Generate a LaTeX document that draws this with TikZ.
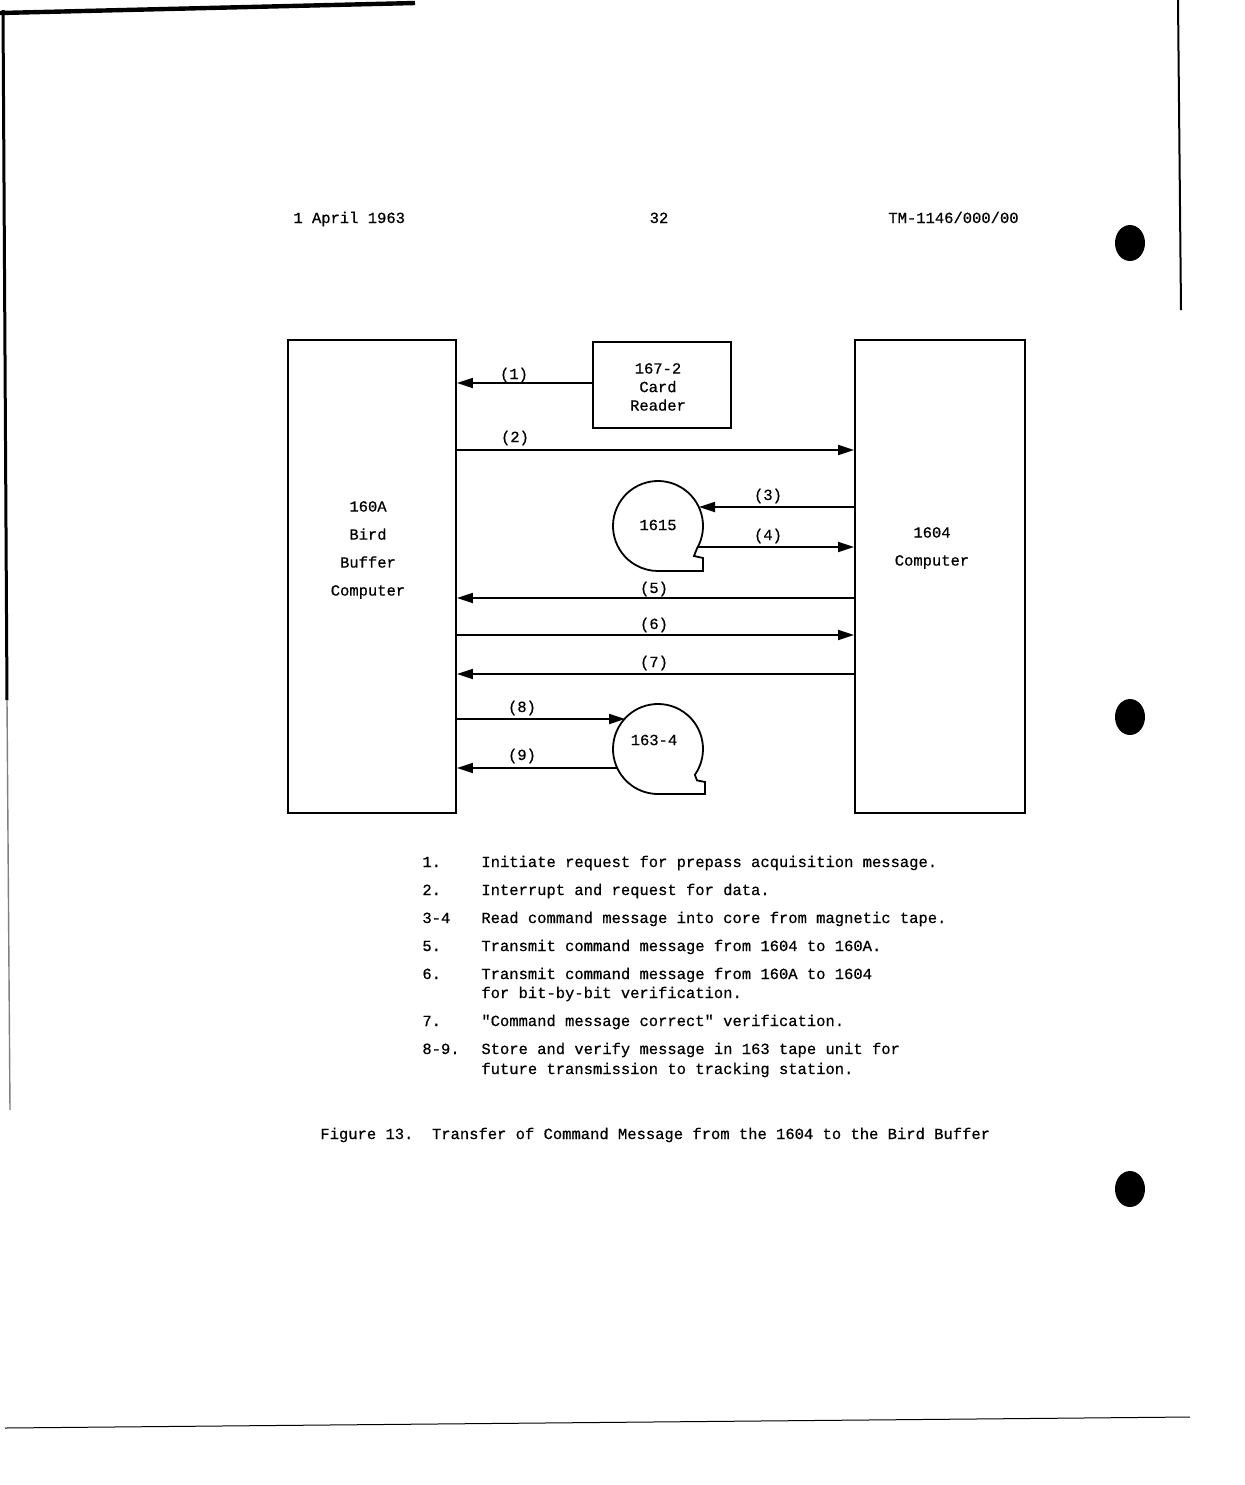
\documentclass[tikz,border=0pt]{standalone}
\usepackage{fontspec}
\setmainfont{Liberation Mono}[FakeBold=0.6, Ligatures=TeXOff]
\usetikzlibrary{arrows.meta}
\begin{document}
\frenchspacing
\begin{tikzpicture}[x=0.5pt,y=-0.5pt,
  every node/.style={font=\fontsize{7.75}{9.3}\selectfont, inner sep=0pt},
  box/.style={draw, line width=0.9pt, inner sep=0pt},
  arr/.style={line width=0.9pt, -{Triangle[length=8pt,width=5pt]}},
  ln/.style={line width=0.9pt},
  txt/.style={anchor=base west}]
\useasboundingbox (0,0) rectangle (1244,1485);

% page edges and punch holes
\draw[line width=2.2pt] (0,13) -- (415,3);
\draw[line width=1.5pt] (3,10) -- (7,700);
\draw[line width=0.7pt, gray] (7,700) -- (10,1110);
\draw[line width=1pt] (1178,0) -- (1181,310);
\draw[line width=0.5pt] (5,1428) -- (1190,1417);
\fill (1130,243) ellipse [x radius=7.5pt, y radius=9pt];
\fill (1130,717) ellipse [x radius=7.5pt, y radius=9pt];
\fill (1130,1189) ellipse [x radius=7.5pt, y radius=9pt];

% header
\node[txt] (h1) at (293,223) {1 April 1963};
\node[anchor=base] (h2) at (659,223) {32};
\node[anchor=base east] (h3) at (1019,223) {TM-1146/000/00};

% boxes
\node[box, minimum width=84pt, minimum height=236.5pt] (bb) at (372,576.5) {};
\node[box, minimum width=69pt, minimum height=43pt] (cr) at (662,385) {};
\node[box, minimum width=85pt, minimum height=236.5pt] (cp) at (940,576.5) {};
\node[align=center, font=\fontsize{7.75}{14}\selectfont] (bbt) at (368,550) {160A\\Bird\\Buffer\\Computer};
\node[align=center, font=\fontsize{7.75}{9.25}\selectfont] (crt) at (658,387) {167-2\\Card\\Reader};
\node[align=center, font=\fontsize{7.75}{14}\selectfont] (cpt) at (932,548) {1604\\Computer};

% tape reels
\coordinate (r1) at (658,526);
\draw[ln] ([shift={(19.49pt,-11.25pt)}]r1) arc[start angle=-30, end angle=270, radius=22.5pt]
  -- ++(22.5pt,0) -- ++(0,6.5pt) -- ++(-4.5pt,1pt) -- cycle;
\node (r1t) at (658,525) {1615};
\coordinate (r2) at (658,749);
\draw[ln] ([shift={(18.43pt,-12.9pt)}]r2) arc[start angle=-35, end angle=270, radius=22.5pt]
  -- ++(23.5pt,0) -- ++(0,6pt) -- ++(-4pt,0.8pt) -- cycle;
\node (r2t) at (654,740) {163-4};

% connector ends
\coordinate (y1) at (0,383);
\coordinate (y2) at (0,450);
\coordinate (a3e) at (699,507);
\coordinate (a4s) at (698,547);
\coordinate (y5) at (0,598);
\coordinate (y6) at (0,635);
\coordinate (y7) at (0,674);
\coordinate (a8e) at (625,719);
\coordinate (a9s) at (617,768);

\draw[arr] (cr.west |- y1) -- (bb.east |- y1);
\draw[arr] (bb.east |- y2) -- (cp.west |- y2);
\draw[arr] (cp.west |- a3e) -- (a3e);
\draw[arr] (a4s) -- (cp.west |- a4s);
\draw[arr] (cp.west |- y5) -- (bb.east |- y5);
\draw[arr] (bb.east |- y6) -- (cp.west |- y6);
\draw[arr] (cp.west |- y7) -- (bb.east |- y7);
\draw[arr] (bb.east |- a8e) -- (a8e);
\draw[arr] (a9s) -- (bb.east |- a9s);

% connector labels
\node (l1) at (514,375) {(1)};
\node (l2) at (515,438) {(2)};
\node (l3) at (768,496) {(3)};
\node (l4) at (768,536) {(4)};
\node (l5) at (654,589) {(5)};
\node (l6) at (654,625) {(6)};
\node (l7) at (654,663) {(7)};
\node (l8) at (522,708) {(8)};
\node (l9) at (522,756) {(9)};

% legend
\node[txt] (n1) at (422,867) {1.};
\node[txt] (d1) at (481,867) {Initiate request for prepass acquisition message.};
\node[txt] (n2) at (422,895) {2.};
\node[txt] (d2) at (481,895) {Interrupt and request for data.};
\node[txt] (n3) at (422,923) {3-4};
\node[txt] (d3) at (481,923) {Read command message into core from magnetic tape.};
\node[txt] (n5) at (422,951) {5.};
\node[txt] (d5) at (481,951) {Transmit command message from 1604 to 160A.};
\node[txt] (n6) at (422,979) {6.};
\node[txt] (d6) at (481,979) {Transmit command message from 160A to 1604};
\node[txt] (d6b) at (481,998) {for bit-by-bit verification.};
\node[txt] (n7) at (422,1026) {7.};
\node[txt] (d7) at (481,1026) {"Command message correct" verification.};
\node[txt] (n8) at (422,1054) {8-9.};
\node[txt] (d8) at (481,1054) {Store and verify message in 163 tape unit for};
\node[txt] (d8b) at (481,1074) {future transmission to tracking station.};

% caption
\node[txt] (cap) at (320,1139) {Figure 13.~~Transfer of Command Message from the 1604 to the Bird Buffer};
\end{tikzpicture}
\end{document}
